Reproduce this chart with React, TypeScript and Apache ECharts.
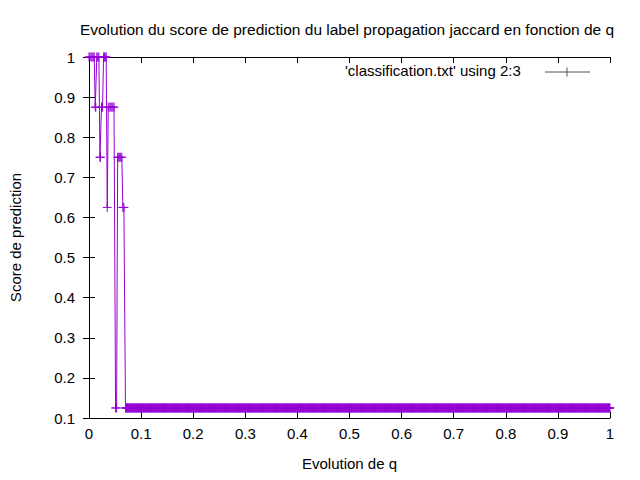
import React, { useEffect, useRef } from 'react';
import * as echarts from 'echarts';

// head of classification.txt (q, score)
const headQ = [0, 0.002, 0.004, 0.006, 0.008, 0.01, 0.012, 0.013, 0.015, 0.017, 0.019, 0.021, 0.022, 0.024, 0.026, 0.028, 0.03, 0.031, 0.033, 0.035, 0.037, 0.04, 0.042, 0.044, 0.046, 0.048, 0.051, 0.053, 0.055, 0.057, 0.059, 0.061, 0.063, 0.065, 0.067, 0.07];
const headScore = [1, 1, 1, 1, 1, 1, 0.875, 0.875, 1, 1, 1, 0.75, 0.75, 0.875, 0.875, 1, 1, 1, 1, 0.625, 0.875, 0.875, 0.875, 0.875, 0.875, 0.875, 0.125, 0.125, 0.75, 0.75, 0.75, 0.75, 0.75, 0.625, 0.625, 0.125];
// tail: constant score from q = 0.071 to 1
const tailStart = 0.071;
const tailEnd = 1;
const tailStep = 0.001;
const tailScore = 0.125;

const xTicks = [0, 0.1, 0.2, 0.3, 0.4, 0.5, 0.6, 0.7, 0.8, 0.9, 1];
const yTicks = [0.1, 0.2, 0.3, 0.4, 0.5, 0.6, 0.7, 0.8, 0.9, 1];

const purple = '#9400d3';
const font = 'Liberation Sans, Arial, sans-serif';

const App = () => {
  const chartRef = useRef<HTMLDivElement>(null);

  useEffect(() => {
    if (!chartRef.current) return;
    const chart = echarts.init(chartRef.current, null, { renderer: 'svg' });

    const data: number[][] = headQ.map((q, i) => [q, headScore[i]]);
    for (let q = tailStart; q <= tailEnd + 1e-9; q += tailStep) data.push([+q.toFixed(3), tailScore]);

    const baseAxis = {
      min: 0, max: 1, interval: 0.1,
      axisLine: { show: true, lineStyle: { color: '#000', width: 1 } },
      axisTick: { inside: true, length: 6, lineStyle: { color: '#000' } },
      splitLine: { show: false },
    };
    const fmt = (v: number) => String(+v.toFixed(1));
    const txt = { fontFamily: font, fontSize: 15, color: '#000' };

    chart.setOption({
      animation: false,
      title: {
        text: 'Evolution du score de prediction du label propagation jaccard en fonction de q',
        left: 342, top: 16, textAlign: 'center',
        textStyle: { fontFamily: font, fontSize: 15.5, fontWeight: 'normal', color: '#000' },
      },
      grid: { left: 85, right: 30, top: 57, bottom: 62 },
      xAxis: [
        { ...baseAxis, type: 'value', position: 'bottom', name: 'Evolution de q', nameLocation: 'middle', nameGap: 38,
          nameTextStyle: txt,
          axisLabel: { ...txt, margin: 8, formatter: fmt, customValues: xTicks } },
        { ...baseAxis, type: 'value', position: 'top', axisLabel: { show: false } },
      ],
      yAxis: [
        { ...baseAxis, type: 'value', min: 0.1, max: 1, position: 'left', name: 'Score de prediction', nameLocation: 'middle', nameGap: 66,
          nameTextStyle: txt,
          axisLabel: { ...txt, margin: 14, formatter: fmt, customValues: yTicks } },
        { ...baseAxis, type: 'value', min: 0.1, max: 1, position: 'right', axisLabel: { show: false } },
      ],
      series: [{
        type: 'line',
        data,
        xAxisIndex: 0, yAxisIndex: 0,
        showAllSymbol: true,
        symbol: 'path://M0,5H10M5,0V10',
        symbolSize: 9,
        lineStyle: { color: purple, width: 1 },
        itemStyle: { color: 'transparent', borderColor: purple, borderWidth: 1 },
      }],
      graphic: [
        { type: 'text', left: 345, top: 63, style: { text: "'classification.txt' using 2:3", font: `15px ${font}`, fill: '#000' } },
        { type: 'line', shape: { x1: 545, y1: 72, x2: 590, y2: 72 }, style: { stroke: '#555', lineWidth: 1 } },
        { type: 'line', shape: { x1: 567, y1: 67.5, x2: 567, y2: 76.5 }, style: { stroke: '#555', lineWidth: 1 } },
      ],
    });

    return () => chart.dispose();
  }, []);

  return <div ref={chartRef} style={{ width: 640, height: 480, margin: -8 }} />;
};

export default App;
